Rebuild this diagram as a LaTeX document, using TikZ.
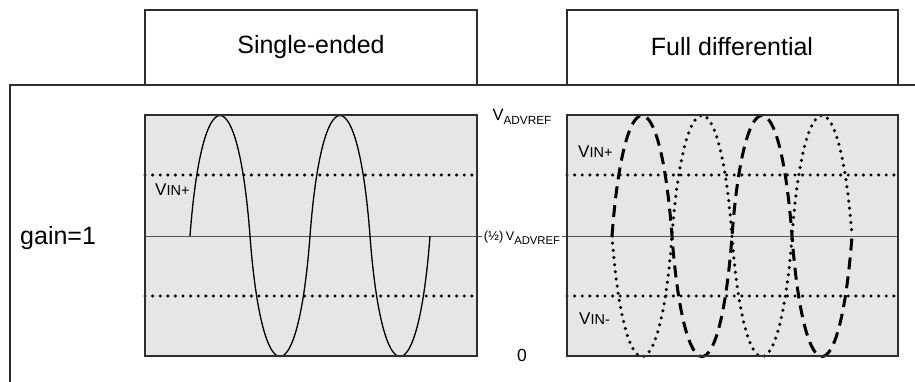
\documentclass[tikz,border=0pt]{standalone}
\usepackage{fontspec}
\setmainfont{Liberation Sans}
\usepackage{tikz}
\usetikzlibrary{positioning}
\definecolor{plotgray}{HTML}{E6E6E6}
\definecolor{framegray}{HTML}{2E2E2E}
\definecolor{refgray}{HTML}{555555}
\newcommand{\vinlabel}[1]{{\fontsize{17}{18}\selectfont V}{\fontsize{14.5}{15}\selectfont IN#1}}
\newcommand{\advref}[2]{{\fontsize{#1}{18}\selectfont V}\raisebox{-4.5pt}{\fontsize{#2}{12}\selectfont ADVREF}}

\begin{document}
\begin{tikzpicture}[x=1pt,y=-1pt,
frame/.style={framegray,line width=1.4pt},
refline/.style={refgray,line width=1pt},
limitline/.style={line width=3.4pt,line cap=round,dash pattern=on 0pt off 7.6pt},
posline/.style={line width=3pt,dash pattern=on 12pt off 7pt},
negline/.style={line width=3.5pt,line cap=round,dash pattern=on 0pt off 7.2pt}]
\useasboundingbox (0,0) rectangle (915,382);
% plot areas
\fill[plotgray] (145,115) rectangle (477,356);
\fill[plotgray] (567,115) rectangle (898,356);
\draw[refline] (145,236)--(898,236);
\foreach \ylim in {175,296}{
  \draw[limitline] (145,\ylim)--(477,\ylim);
  \draw[limitline] (567,\ylim)--(898,\ylim);}
% single-ended input
\draw[line width=1.3pt] (190,236) \foreach \s in {-1,1,-1,1}{
  .. controls +(12,160.7*\s) and +(-12,160.7*\s) .. ++(60,0)};
% differential inputs
\draw[posline] (612,236) \foreach \s in {-1,1,-1,1}{
  .. controls +(12,160.7*\s) and +(-12,160.7*\s) .. ++(60,0)};
\draw[negline] (612,236) \foreach \s in {1,-1,1,-1}{
  .. controls +(12,160.7*\s) and +(-12,160.7*\s) .. ++(60,0)};
\draw[frame] (145,115) rectangle (477,356);
\draw[frame] (567,115) rectangle (898,356);
% header boxes and outer frame
\draw[frame] (145,85)--(145,10)--(477,10)--(477,85);
\draw[frame] (567,85)--(567,10)--(898,10)--(898,85);
\draw[frame] (10,382)--(10,85)--(915,85);
\node[inner sep=0pt,font=\fontsize{25}{30}\selectfont] (single) at (311,47) {Single-ended};
\node[inner sep=0pt,font=\fontsize{25}{30}\selectfont] (diff) at (732,47) {Full differential};
\node[inner sep=0pt,font=\fontsize{25}{30}\selectfont,anchor=west] (gain) at (20,238) {gain=1};
% levels
\node[inner sep=0pt] (vref) at (522,117) {\advref{16.5}{11.8}};
\node[inner sep=1.5pt,fill=white] (vhalf) at (522,238) {{\fontsize{13}{15}\selectfont(\char"00BD)}\hspace{2.5pt}\advref{12.5}{11.3}};
\node[inner sep=0pt,font=\fontsize{17.5}{18}\selectfont] (zero) at (522,355) {0};
\node[inner sep=0pt,anchor=west] (vinse) at (155,190) {\vinlabel{+}};
\node[inner sep=0pt,anchor=west] (vinp) at (578,152) {\vinlabel{+}};
\node[inner sep=0pt,anchor=west] (vinn) at (579,319) {\vinlabel{-}};
\end{tikzpicture}
\end{document}
